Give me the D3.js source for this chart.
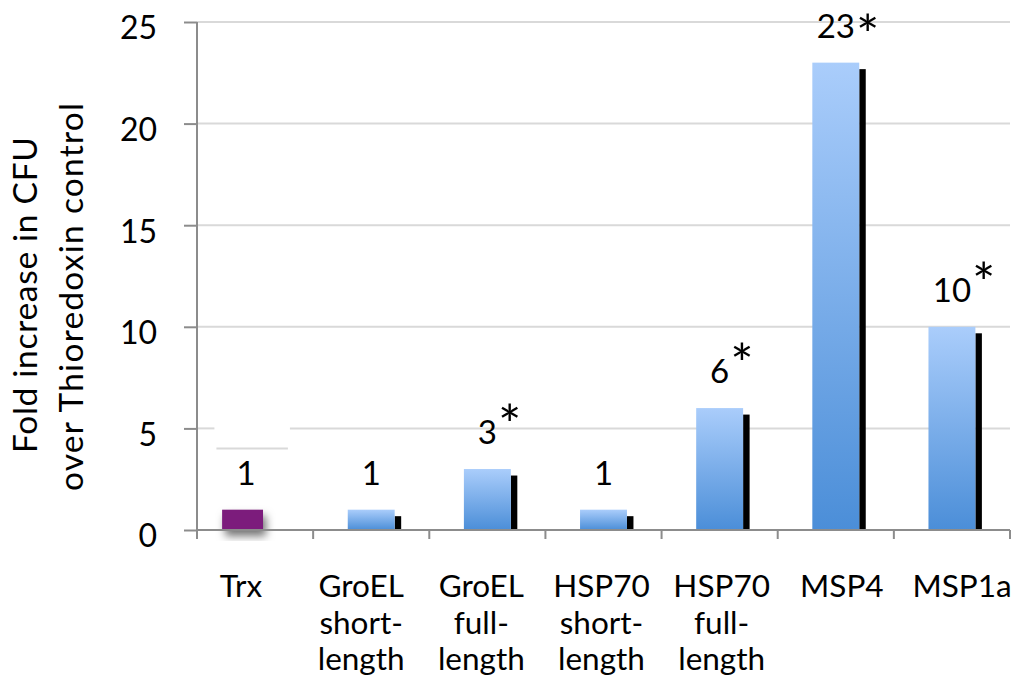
<!DOCTYPE html>
<html>
<head>
<meta charset="utf-8">
<script src="https://cdn.jsdelivr.net/npm/d3@7/dist/d3.min.js"></script>
<style>
  html, body { margin: 0; padding: 0; background: #ffffff; }
  svg { display: block; font-family: Lato, "Open Sans", sans-serif; }
</style>
</head>
<body>
<svg id="chart" width="1016" height="690"></svg>
<script>
// ---- data ----
const categories = ["Trx", "GroEL short-length", "GroEL full-length", "HSP70 short-length", "HSP70 full-length", "MSP4", "MSP1a"];
const categoryLines = [["Trx"], ["GroEL", "short-", "length"], ["GroEL", "full-", "length"], ["HSP70", "short-", "length"], ["HSP70", "full-", "length"], ["MSP4"], ["MSP1a"]];
const values = [1, 1, 3, 1, 6, 23, 10];
const valueLabels = ["1", "1", "3", "1", "6", "23", "10"];
const significant = [false, false, true, false, true, true, true];
const yTicks = [0, 5, 10, 15, 20, 25];
const yTitleLines = ["Fold increase in CFU", "over Thioredoxin control"];

(function () {
// ---- layout ----
const svg = d3.select("#chart");
const mLeft = 197, mRight = 1010, mTop = 22, mBottom = 530;

const x = d3.scaleBand().domain(categories).range([mLeft, mRight]).paddingInner(0).paddingOuter(0);
const y = d3.scaleLinear().domain([0, 25]).range([mBottom, mTop]);
const xLabel = d3.scalePoint().domain(categories).range([241, 962]);

const defs = svg.append("defs");
const grad = defs.append("linearGradient").attr("id", "barGrad")
  .attr("x1", 0).attr("y1", 0).attr("x2", 0).attr("y2", 1);
grad.append("stop").attr("offset", "0%").attr("stop-color", "#aacdfb");
grad.append("stop").attr("offset", "100%").attr("stop-color", "#4b8ed8");
const filt = defs.append("filter").attr("id", "softShadow")
  .attr("x", "-50%").attr("y", "-50%").attr("width", "200%").attr("height", "200%");
filt.append("feDropShadow").attr("dx", 3).attr("dy", 6).attr("stdDeviation", 4)
  .attr("flood-color", "#000").attr("flood-opacity", 0.55);

// ---- gridlines ----
const bw = x.bandwidth();
const gapStart = x(categories[0]) + bw * 0.15, gapEnd = x(categories[0]) + bw * 0.8;
const grid = svg.append("g");
yTicks.filter(t => t > 0).forEach(t => {
  if (t === 5) {
    grid.append("line").attr("x1", mLeft).attr("x2", gapStart).attr("y1", y(t)).attr("y2", y(t));
    grid.append("line").attr("x1", gapEnd).attr("x2", mRight).attr("y1", y(t)).attr("y2", y(t));
    grid.append("line").attr("x1", gapStart + 2).attr("x2", gapEnd - 2).attr("y1", y(t) + 20).attr("y2", y(t) + 20);
  } else {
    grid.append("line").attr("x1", mLeft).attr("x2", mRight).attr("y1", y(t)).attr("y2", y(t));
  }
});
grid.selectAll("line").attr("stroke", "#d9d9d9").attr("stroke-width", 2);

// ---- y axis ----
const yAxis = svg.append("g").attr("transform", `translate(${mLeft},0)`)
  .call(d3.axisLeft(y).tickValues(yTicks).tickSize(13).tickPadding(27));
yAxis.select(".domain").attr("stroke", "#8c8c8c").attr("stroke-width", 2).attr("d", `M0,${mBottom}V${mTop}`);
yAxis.selectAll(".tick line").attr("stroke", "#8c8c8c").attr("stroke-width", 2);
yAxis.selectAll(".tick text").attr("font-family", "Lato, sans-serif").attr("font-size", 32)
  .attr("fill", "#000").attr("dy", "0.53em");

// ---- bars ----
const barW = bw * 0.404;
const trxW = bw * 0.352;
const bars = svg.append("g");
categories.forEach((c, i) => {
  const v = values[i];
  if (i === 0) {
    const cx = x(c) + bw / 2 - 12.5;
    bars.append("rect").attr("x", cx - trxW / 2).attr("y", y(v)).attr("width", trxW).attr("height", y(0) - y(v))
      .attr("fill", "#7b1a7b").attr("filter", "url(#softShadow)");
  } else {
    const bx = x(c) + (bw - barW) / 2;
    bars.append("rect").attr("x", bx + barW).attr("y", y(v) + 6.5).attr("width", 6.5).attr("height", y(0) - y(v) - 6.5)
      .attr("fill", "#000");
    bars.append("rect").attr("x", bx).attr("y", y(v)).attr("width", barW).attr("height", y(0) - y(v))
      .attr("fill", "url(#barGrad)");
  }
});

// ---- x axis ----
const xAxisG = svg.append("g");
xAxisG.append("line").attr("x1", mLeft).attr("x2", mRight).attr("y1", mBottom).attr("y2", mBottom)
  .attr("stroke", "#8c8c8c").attr("stroke-width", 2);
const bounds = categories.map(c => x(c)).concat([mRight]);
xAxisG.selectAll("line.tk").data(bounds).enter().append("line").attr("class", "tk")
  .attr("x1", d => d).attr("x2", d => d).attr("y1", mBottom).attr("y2", mBottom + 9)
  .attr("stroke", "#8c8c8c").attr("stroke-width", 2);

// ---- value labels ----
const lab = svg.append("g").attr("font-family", "Lato, sans-serif").attr("fill", "#000");
categories.forEach((c, i) => {
  const cx = i === 0 ? x(c) + bw / 2 - 9 : x(c) + bw / 2;
  const ty = y(values[i]) - 25;
  const t = lab.append("text").attr("x", cx).attr("y", ty).attr("text-anchor", "middle")
    .attr("font-size", 33).text(valueLabels[i]);
  if (significant[i]) {
    const w = t.node().getComputedTextLength();
    lab.append("text").attr("x", cx + w / 2 + 1).attr("y", Math.max(ty, 54)).attr("font-size", 55).text("*");
  }
});

// ---- category labels ----
const cl = svg.append("g").attr("font-family", "Lato, sans-serif").attr("font-size", 31.5).attr("fill", "#000");
categories.forEach((c, i) => {
  const t = cl.append("text").attr("x", xLabel(c)).attr("y", 597).attr("text-anchor", "middle");
  categoryLines[i].forEach((ln, j) => {
    t.append("tspan").attr("x", xLabel(c)).attr("dy", j === 0 ? 0 : 36.7).text(ln);
  });
});

// ---- y title ----
const yt = svg.append("g").attr("font-family", "Lato, sans-serif").attr("font-size", 33.5).attr("fill", "#000");
const titleCenters = [295, 297];
const titleLengths = [316, 388];
yTitleLines.forEach((ln, j) => {
  yt.append("text").attr("transform", `translate(${37 + j * 46},${titleCenters[j]}) rotate(-90)`)
    .attr("text-anchor", "middle").attr("textLength", titleLengths[j]).attr("lengthAdjust", "spacing").text(ln);
});
})();
</script>
</body>
</html>
